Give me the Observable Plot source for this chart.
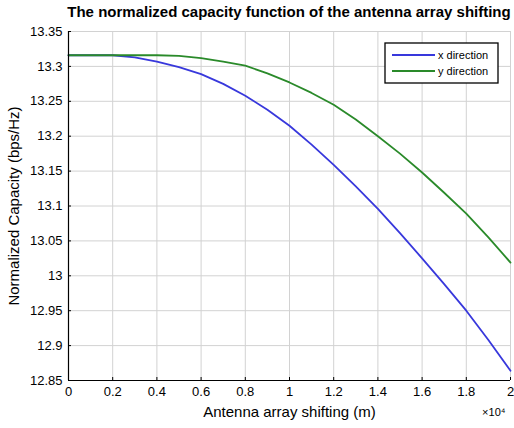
<!DOCTYPE html>
<html>
<head>
<meta charset="utf-8">
<script src="https://cdn.jsdelivr.net/npm/d3@7"></script>
<script src="https://cdn.jsdelivr.net/npm/@observablehq/plot@0.6"></script>
<style>
  html, body { margin: 0; padding: 0; background: #fff; }
  #wrap { position: relative; width: 514px; height: 428px; font-family: "Liberation Sans", Arial, sans-serif; }
  #title { height: 22px; line-height: 24px; font-weight: bold; font-size: 15px; color: #000;
           position: relative; left: 64px; width: 450px; text-align: center; white-space: nowrap; }
</style>
</head>
<body>
<div id="wrap">
  <div id="title">The normalized capacity function of the antenna array shifting</div>
  <div id="chart"></div>
</div>
<script>
// Array shift in metres
const shiftM = [0, 1000, 2000, 3000, 4000, 5000, 6000, 7000, 8000, 9000, 10000,
                11000, 12000, 13000, 14000, 15000, 16000, 17000, 18000, 19000, 20000];
// Normalized capacity (bps/Hz), shift along x
const capX = [13.316, 13.316, 13.316, 13.313, 13.307, 13.299, 13.289, 13.275, 13.258, 13.238, 13.215,
              13.188, 13.159, 13.128, 13.096, 13.061, 13.025, 12.988, 12.950, 12.908, 12.864];
// Normalized capacity (bps/Hz), shift along y
const capY = [13.316, 13.316, 13.316, 13.316, 13.316, 13.315, 13.312, 13.307, 13.301, 13.290, 13.277,
              13.262, 13.245, 13.224, 13.200, 13.175, 13.148, 13.119, 13.089, 13.055, 13.019];
const seriesNames = ["x direction", "y direction"];
const seriesColors = ["#3838dc", "#2a8a2a"];

const xTicks = [0, 2000, 4000, 6000, 8000, 10000, 12000, 14000, 16000, 18000, 20000];
const xTickLabels = ["0", "0.2", "0.4", "0.6", "0.8", "1", "1.2", "1.4", "1.6", "1.8", "2"];
const yTicks = [12.85, 12.9, 12.95, 13, 13.05, 13.1, 13.15, 13.2, 13.25, 13.3, 13.35];
const yTickLabels = ["12.85", "12.9", "12.95", "13", "13.05", "13.1", "13.15", "13.2", "13.25", "13.3", "13.35"];

const rows = [];
shiftM.forEach((s, i) => {
  rows.push({shift: s, cap: capX[i], series: seriesNames[0]});
  rows.push({shift: s, cap: capY[i], series: seriesNames[1]});
});

const W = 514, H = 406, mL = 68, mR = 4, mT = 9, mB = 48;
const innerW = W - mL - mR, innerH = H - mT - mB;

const plot = Plot.plot({
  width: W, height: H,
  marginLeft: mL, marginRight: mR, marginTop: mT, marginBottom: mB,
  style: {fontFamily: "'Liberation Sans', Arial, sans-serif", fontSize: "13px", background: "#fff", color: "#000"},
  x: {domain: [0, 20000], ticks: xTicks, tickFormat: d => xTickLabels[xTicks.indexOf(d)],
      tickSize: 0, tickPadding: 6, label: null},
  y: {domain: [12.85, 13.35], ticks: yTicks, tickFormat: d => yTickLabels[yTicks.findIndex(t => Math.abs(t - d) < 1e-9)],
      tickSize: 0, tickPadding: 6, label: null},
  color: {domain: seriesNames, range: seriesColors},
  marks: [
    Plot.ruleX(xTicks, {stroke: "#d2d2d2", strokeWidth: 1}),
    Plot.ruleY(yTicks, {stroke: "#d2d2d2", strokeWidth: 1}),
    Plot.line(rows, {x: "shift", y: "cap", stroke: "series", z: "series", strokeWidth: 1.8}),
    // axis lines and inward ticks
    Plot.ruleX([0], {stroke: "#000", strokeWidth: 1.2}),
    Plot.ruleY([12.85], {stroke: "#000", strokeWidth: 1.2}),
    Plot.ruleY(yTicks, {stroke: "#000", insetRight: innerW - 3}),
    Plot.ruleX(xTicks, {stroke: "#000", insetTop: innerH - 3}),
    Plot.text(["Normalized Capacity (bps/Hz)"], {frameAnchor: "left", textAnchor: "middle", rotate: -90, dx: -54, fontSize: 15}),
    Plot.text(["Antenna array shifting (m)"], {frameAnchor: "bottom", textAnchor: "middle", dy: 36, fontSize: 15}),
    Plot.text(["\u00d710\u2074"], {frameAnchor: "bottom-right", textAnchor: "end", dy: 35, dx: -5, fontSize: 11})
  ]
});
document.getElementById("chart").appendChild(plot);

// legend box in the upper right of the axes
const svg = d3.select(plot);
const lg = svg.append("g").attr("font-family", "'Liberation Sans', Arial, sans-serif")
  .attr("font-size", 11).attr("text-anchor", "start");
lg.append("rect").attr("x", 385).attr("y", 21).attr("width", 113).attr("height", 40)
  .attr("fill", "#fff").attr("stroke", "#000").attr("stroke-width", 1.3);
seriesNames.forEach((name, i) => {
  const y = 33 + i * 16;
  lg.append("line").attr("x1", 392).attr("x2", 435).attr("y1", y).attr("y2", y)
    .attr("stroke", seriesColors[i]).attr("stroke-width", 1.8);
  lg.append("text").attr("x", 438).attr("y", y).attr("dy", "0.35em").attr("fill", "#000").text(name);
});
</script>
</body>
</html>
